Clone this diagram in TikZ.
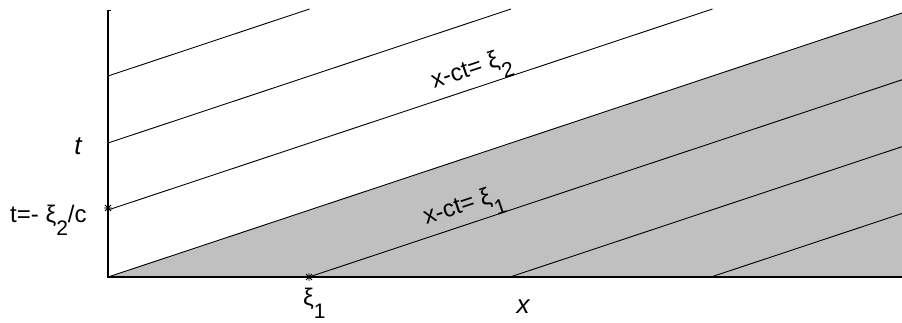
\documentclass[tikz,border=0pt]{standalone}
\usepackage{fontspec}
\setmainfont{Liberation Sans}
\newcommand\lowsub[1]{\raisebox{-0.55em}{\fontsize{21}{21}\selectfont #1}}
\tikzset{
  shadefill/.style={fill={rgb,255:red,192;green,192;blue,192}},
  charline/.style={line width=0.9pt},
  axisline/.style={line width=1.4pt},
  lbl/.style={font=\fontsize{24}{24}\selectfont, inner sep=0pt},
  axlbl/.style={font=\fontsize{26}{26}\selectfont\itshape, inner sep=0pt},
  star/.pic={\draw[line width=0.8pt] (-4,0) -- (4,0) (0,-4) -- (0,4) (-3,-3) -- (3,3) (-3,3) -- (3,-3);}
}
\begin{document}
\begin{tikzpicture}[x=1pt,y=-1pt]
\useasboundingbox (0,0) rectangle (902,322);
% coordinates
\coordinate (O) at (108,277);
\coordinate (Otop) at (108,10);
\coordinate (Xend) at (902,277);
\coordinate (B) at (902,13);
\coordinate (a1) at (108,210); \coordinate (a1e) at (712.5,9);
\coordinate (a2) at (108,143); \coordinate (a2e) at (511,9);
\coordinate (a3) at (108,76);  \coordinate (a3e) at (309.5,9);
\coordinate (b1) at (309,277); \coordinate (b1e) at (902,79.8);
\coordinate (b2) at (510,277); \coordinate (b2e) at (902,146.7);
\coordinate (b3) at (711,277); \coordinate (b3e) at (902,213.5);
\coordinate (s2) at (108,208);
\coordinate (s1) at (309,277);
% shaded region
\fill[shadefill] (O) -- (B) -- (Xend) -- cycle;
% characteristic lines
\draw[charline] (O) -- (B);
\draw[charline] (a1) -- (a1e);
\draw[charline] (a2) -- (a2e);
\draw[charline] (a3) -- (a3e);
\draw[charline] (b1) -- (b1e);
\draw[charline] (b2) -- (b2e);
\draw[charline] (b3) -- (b3e);
% axes
\draw[axisline] (Otop) -- (O) -- (Xend);
\draw[line width=0.8pt] (Otop) -- ++(3,0);
% markers
\pic at (s2) {star};
\pic at (s1) {star};
% labels
\path (a1) -- (a1e) node[lbl, pos=0.61, sloped, above=-1pt] (L2) {x-ct= ξ\lowsub{2}};
\path (b1) -- (b1e) node[lbl, pos=0.27, sloped, above=-1pt] (L1) {x-ct= ξ\lowsub{1}};
\node[axlbl, anchor=base] (tl) at (78,154) {t};
\node[axlbl, anchor=base] (xl) at (523,313) {x};
\node[lbl, anchor=base west] (tval) at (10,222) {t=- ξ\lowsub{2}/c};
\node[lbl, anchor=base west] (x1) at (303,305) {ξ\lowsub{1}};
\end{tikzpicture}
\end{document}
